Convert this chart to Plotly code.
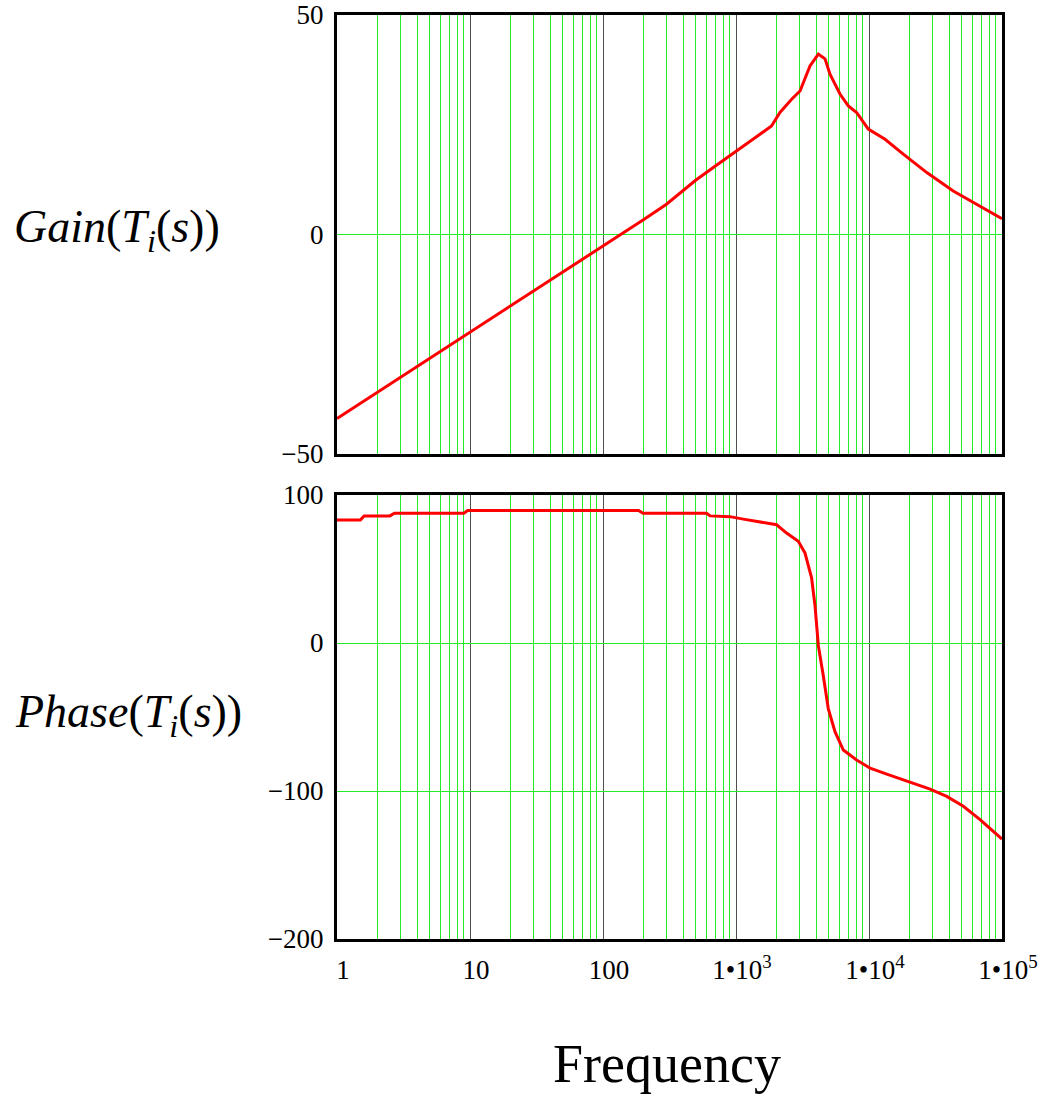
import plotly.graph_objects as go
from plotly.subplots import make_subplots

# ---- data ----
freq_gain = [1, 2, 3, 5, 10, 20, 30, 50, 100, 200, 300, 500, 700, 1000, 1430, 1850,
             2140, 2620, 3030, 3600, 4160, 4670, 5090, 6050, 6990, 8070, 9880, 13200,
             18100, 27200, 43000, 72400, 100000]
gain_db = [-41.9, -36.0, -32.6, -28.1, -22.3, -16.3, -12.9, -8.5, -2.7, 3.3, 6.9, 12.4,
           15.6, 19.0, 22.4, 24.7, 27.8, 30.8, 32.7, 38.4, 41.1, 40.0, 36.5, 32.0, 29.3,
           27.8, 24.0, 21.7, 18.3, 14.1, 9.9, 6.1, 3.6]

freq_phase = [1, 1.5, 1.6, 2.5, 2.7, 9.0, 9.6, 185, 200, 600, 640, 900, 1135, 1600,
              2020, 2400, 2940, 3300, 3700, 3930, 4160, 4530, 4940, 5550, 6410, 8070,
              10200, 13600, 19800, 28800, 38400, 51200, 68400, 86100, 100000]
phase_deg = [83.2, 83.2, 85.9, 85.9, 87.7, 87.7, 89.5, 89.5, 87.7, 87.7, 85.9, 85.4,
             83.7, 81.7, 79.9, 74.3, 68.7, 60.9, 44.1, 25.0, -1.8, -21.9, -44.3, -59.9,
             -72.3, -79.0, -84.6, -88.6, -93.5, -98.7, -103.6, -110.3, -119.3, -127.1,
             -132.5]

x_tickvals = [1, 10, 100, 1000, 10000, 100000]
x_ticktext = ["1", "10", "100", "1\u202210<sup>3</sup>", "1\u202210<sup>4</sup>",
              "1\u202210<sup>5</sup>"]
gain_ticks = [-50, 0, 50]
phase_ticks = [-200, -100, 0, 100]

SERIF = "Liberation Serif, Times New Roman, serif"
GRID_GREEN = "#22ee22"

fig = make_subplots(rows=2, cols=1, shared_xaxes=False, vertical_spacing=0.0)

fig.add_trace(go.Scatter(x=freq_gain, y=gain_db, mode="lines",
                         line=dict(color="#ff0000", width=3), showlegend=False),
              row=1, col=1)
fig.add_trace(go.Scatter(x=freq_phase, y=phase_deg, mode="lines",
                         line=dict(color="#ff0000", width=3), showlegend=False),
              row=2, col=1)

xcommon = dict(type="log", range=[0, 5], showline=True, mirror=True, linewidth=3,
               linecolor="black", showgrid=True, gridcolor="#505050", gridwidth=1,
               tickmode="array", tickvals=x_tickvals, ticktext=x_ticktext,
               ticks="", zeroline=False, automargin=False,
               minor=dict(dtick="D1", showgrid=True, gridcolor=GRID_GREEN, gridwidth=1,
                          ticks=""),
               tickfont=dict(family=SERIF, size=27, color="black"))

fig.update_xaxes(**xcommon)
fig.update_xaxes(showticklabels=False, row=1, col=1)
fig.update_xaxes(ticklabelshift=6, ticklabelstandoff=5, row=2, col=1)

ycommon = dict(showline=True, mirror=True, linewidth=3, linecolor="black",
               showgrid=True, gridcolor=GRID_GREEN, gridwidth=1, zeroline=False,
               ticks="", tickmode="array", automargin=False,
               tickfont=dict(family=SERIF, size=27, color="black"),
               ticklabelstandoff=5)
fig.update_yaxes(**ycommon)
fig.update_yaxes(range=[-50, 50], tickvals=gain_ticks, gridcolor=GRID_GREEN, row=1, col=1)
fig.update_yaxes(range=[-200, 100], tickvals=phase_ticks, gridcolor=GRID_GREEN, row=2, col=1)

fig.update_layout(
    width=1039, height=1101,
    margin=dict(l=337, r=37, t=15, b=162, autoexpand=False),
    paper_bgcolor="white", plot_bgcolor="white",
    xaxis=dict(domain=[0, 1]), xaxis2=dict(domain=[0, 1]),
    yaxis=dict(domain=[0.5249, 1.0]), yaxis2=dict(domain=[0.0, 0.4805]),
)

fig.add_annotation(text="<i>Gain</i>(<i>T<sub>i</sub></i>(<i>s</i>))",
                   xref="paper", yref="paper", x=-0.4887, y=0.7673,
                   xanchor="left", yanchor="middle", showarrow=False,
                   font=dict(family=SERIF, size=46, color="black"))
fig.add_annotation(text="<i>Phase</i>(<i>T<sub>i</sub></i>(<i>s</i>))",
                   xref="paper", yref="paper", x=-0.4872, y=0.2424,
                   xanchor="left", yanchor="middle", showarrow=False,
                   font=dict(family=SERIF, size=46, color="black"))
fig.add_annotation(text="Frequency",
                   xref="paper", yref="paper", x=0.4962, y=-0.1353,
                   xanchor="center", yanchor="middle", showarrow=False,
                   font=dict(family=SERIF, size=54, color="black"))

fig.write_html("out.html")
